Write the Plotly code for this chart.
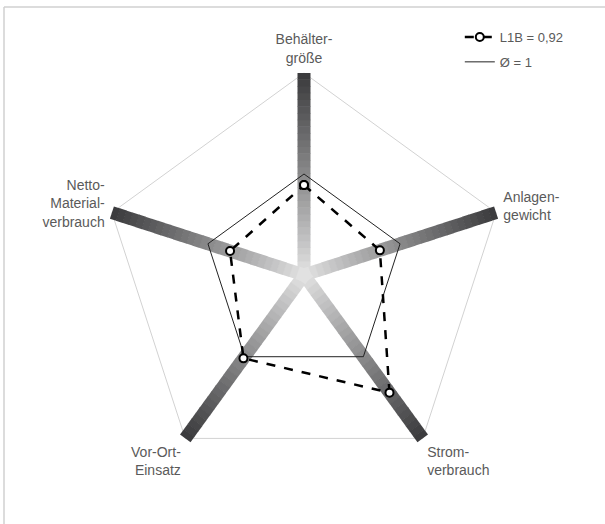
import plotly.graph_objects as go
import numpy as np

categories = ["Behälter-<br>größe", "Anlagen-<br>gewicht", "Strom-<br>verbrauch",
              "Vor-Ort-<br>Einsatz", "Netto-<br>Material-<br>verbrauch"]
l1b_values = [0.89, 0.79, 1.44, 1.02, 0.77]
avg_values = [1, 1, 1, 1, 1]
axis_max = 2
l1b_name = "L1B = 0,92"
avg_name = "Ø = 1"

W, H = 605, 524
fig = go.Figure()

# outer frame pentagon at the scale maximum
outer = [axis_max] * len(categories)
fig.add_trace(go.Scatterpolar(
    r=outer + outer[:1], theta=categories + categories[:1], mode="lines",
    line=dict(color="#d2d2d2", width=1), hoverinfo="skip", showlegend=False))

# gradient spokes
n_seg = 30
edges = np.linspace(0, axis_max, n_seg + 1)
light = np.array([230, 230, 230])
dark = np.array([58, 58, 60])
for cat in categories:
    for i in range(n_seg):
        t = (i + 0.5) / n_seg
        c = light + (dark - light) * (t ** 0.9)
        col = "rgb(%d,%d,%d)" % tuple(c.astype(int))
        r1 = edges[i + 1] + (0.005 if i < n_seg - 1 else 0)
        fig.add_trace(go.Scatterpolar(
            r=[edges[i], r1], theta=[cat, cat], mode="lines",
            line=dict(color=col, width=13), hoverinfo="skip", showlegend=False))

fig.add_trace(go.Scatterpolar(
    r=avg_values + avg_values[:1], theta=categories + categories[:1],
    mode="lines", line=dict(color="#222", width=1), name=avg_name,
    legendrank=2, legendgroup="b"))

fig.add_trace(go.Scatterpolar(
    r=l1b_values + l1b_values[:1], theta=categories + categories[:1],
    mode="lines+markers", line=dict(color="black", width=2.5, dash="dash"),
    marker=dict(symbol="circle", size=8, color="white",
                line=dict(color="black", width=2)),
    name=l1b_name, legendrank=1, legendgroup="a"))

rmax = 2.07
Rpx = 202 * rmax / axis_max
cx, cy = 304, 249  # centre, pixels from left / bottom
fig.update_layout(
    width=W, height=H, autosize=False,
    margin=dict(l=0, r=0, t=0, b=0),
    paper_bgcolor="white", plot_bgcolor="white",
    font=dict(family="Liberation Sans, Arial, sans-serif", size=14, color="#5a5a5a"),
    polar=dict(
        domain=dict(x=[(cx - Rpx) / W, (cx + Rpx) / W], y=[(cy - Rpx) / H, (cy + Rpx) / H]),
        gridshape="linear",
        bgcolor="rgba(0,0,0,0)",
        radialaxis=dict(range=[0, rmax], visible=False, showgrid=False),
        angularaxis=dict(rotation=90, direction="clockwise", showgrid=False,
                         showline=False, ticks="",
                         tickfont=dict(size=14, color="#5a5a5a")),
    ),
    legend=dict(x=0.76, y=0.958, xanchor="left", yanchor="top",
                bgcolor="rgba(0,0,0,0)", font=dict(size=13, color="#5a5a5a"),
                itemwidth=30, tracegroupgap=5),
    shapes=[
        dict(type="line", xref="paper", yref="paper", x0=4 / W, x1=1, y0=1 - 7 / H, y1=1 - 7 / H,
             line=dict(color="#d0d0d0", width=1.5)),
        dict(type="line", xref="paper", yref="paper", x0=4 / W, x1=4 / W, y0=0, y1=1 - 7 / H,
             line=dict(color="#d0d0d0", width=1.5)),
    ],
)

fig.write_html("out.html", config={"displayModeBar": False},
               post_script="document.body.style.margin='0';")
